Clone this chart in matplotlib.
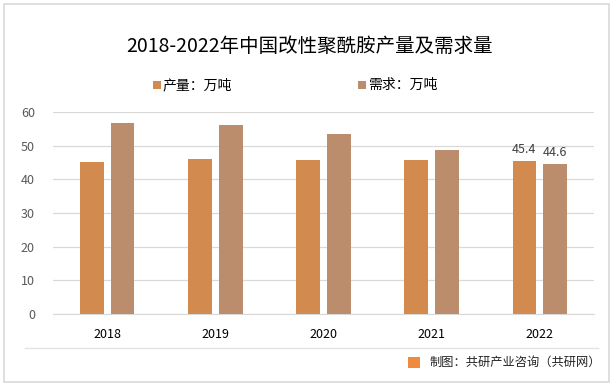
import matplotlib
matplotlib.use("Agg")
import matplotlib.pyplot as plt
import numpy as np
from matplotlib.patches import Rectangle
from matplotlib.lines import Line2D

plt.rcParams['font.family'] = ['Noto Sans CJK SC', 'DejaVu Sans']

years = ["2018", "2019", "2020", "2021", "2022"]
production = [45.1, 46.1, 45.8, 45.7, 45.4]
demand = [56.7, 56.2, 53.6, 48.7, 44.6]
series_names = ["产量：万吨", "需求：万吨"]
yticks = [0, 10, 20, 30, 40, 50, 60]

c_prod = "#D38A4E"
c_dem = "#BC8D6C"

fig = plt.figure(figsize=(6.16, 3.87), dpi=100)
fig.patch.set_facecolor("white")

# outer frame
fig.add_artist(Rectangle((4/616, 1-382/387), 605/616, 378/387, transform=fig.transFigure,
                         fill=False, edgecolor="#D9D9D9", linewidth=1.2))

ax = fig.add_axes([53/616, 1-314/387, (594-53)/616, (314-112)/387])
x = np.arange(len(years))
w = 0.22
off = 0.143
ax.bar(x - off, production, width=w, color=c_prod, zorder=3)
ax.bar(x + off, demand, width=w, color=c_dem, zorder=3)

ax.set_xlim(-0.5, len(years) - 0.5)
ax.set_ylim(0, 60)
ax.set_yticks(yticks)
ax.yaxis.grid(True, color="#D9D9D9", linewidth=0.9, zorder=0)
ax.set_axisbelow(True)
for s in ["top", "right", "left"]:
    ax.spines[s].set_visible(False)
ax.spines["bottom"].set_color("#D9D9D9")
ax.tick_params(axis="both", length=0, labelsize=9, colors="#595959")
ax.tick_params(axis="x", pad=10, colors="#000000")
ax.tick_params(axis="y", pad=13)
ax.set_xticks(x)
ax.set_xticklabels(years)

# data labels on last group
ax.text(x[-1] - off, production[-1] + 1.5, f"{production[-1]}", ha="center", va="bottom",
        fontsize=9, color="#404040")
ax.text(x[-1] + off, demand[-1] + 1.5, f"{demand[-1]}", ha="center", va="bottom",
        fontsize=9, color="#404040")

# title
fig.text(310/616, 1-46/387, "2018-2022年中国改性聚酰胺产量及需求量", ha="center", va="center",
         fontsize=14, color="#000000")

# legend
for mx, name, col in [(157, series_names[0], c_prod), (362, series_names[1], c_dem)]:
    fig.add_artist(Rectangle(((mx - 4)/616, 1 - 89/387), 8/616, 8/387, transform=fig.transFigure,
                             facecolor=col, edgecolor="none"))
    fig.text((mx + 6)/616, 1 - 85/387, name, ha="left", va="center", fontsize=10, color="#000000")

# separator line and source
fig.add_artist(Line2D([25/616, 598/616], [1-348/387, 1-348/387], transform=fig.transFigure,
                      color="#E3E3E3", linewidth=1))
fig.add_artist(Rectangle((408/616, 1-368/387), 12/616, 11/387, transform=fig.transFigure,
                         facecolor="#F08A3C", edgecolor="none"))
fig.text(429/616, 1-362/387, "制图：共研产业咨询（共研网）", ha="left", va="center",
         fontsize=8.8, color="#222222")

fig.savefig("out.png", dpi=100)
